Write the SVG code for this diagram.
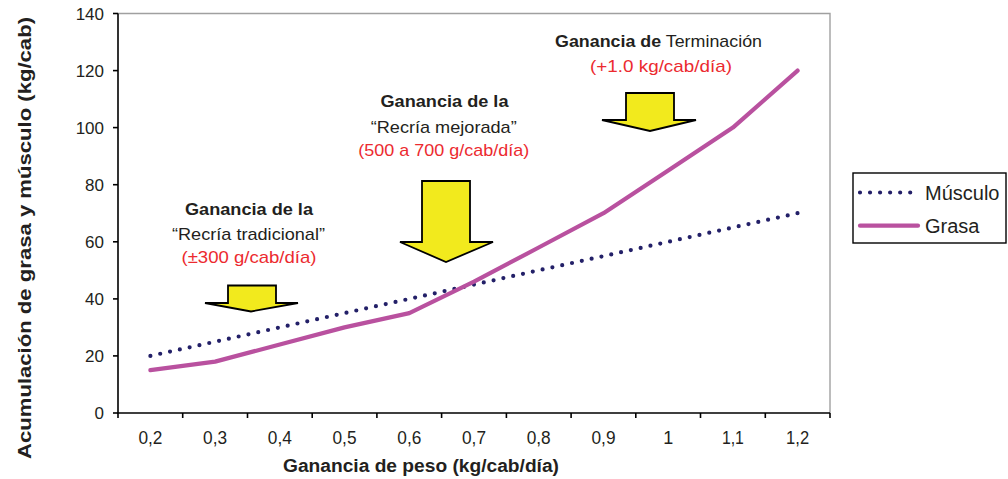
<svg xmlns="http://www.w3.org/2000/svg" width="1008" height="479" viewBox="0 0 1008 479">
<style>
text{font-family:"Liberation Sans",Arial,sans-serif;fill:#231f20}
.ytick{font-size:17px;text-anchor:end}
.xtick{font-size:18px;text-anchor:middle}
.b{font-weight:bold}
.red{fill:#ec2a2f}
.ann{font-size:17px;text-anchor:middle}
.arrow{fill:#f2ea1d;stroke:#000;stroke-width:1.8;stroke-linejoin:miter}
.mus{fill:none;stroke:#232068;stroke-width:4.2;stroke-linecap:round;stroke-dasharray:0 10.04}
.gra{fill:none;stroke:#b9519f;stroke-width:4.2;stroke-linejoin:round;stroke-linecap:round}
.ax{stroke:#000;stroke-width:1.6;fill:none}
.grid{stroke:#a0a0a0;stroke-width:1.4;fill:none}
</style>
<rect width="1008" height="479" fill="#fff"/>
<g id="plot-frame">
<polyline class="grid" points="118,13.5 830,13.5 830,413"/>
<polyline class="ax" points="118,13.5 118,413 830,413"/>
<g class="ax">
<line x1="113" y1="13.5" x2="118" y2="13.5"/>
<line x1="113" y1="70.6" x2="118" y2="70.6"/>
<line x1="113" y1="127.6" x2="118" y2="127.6"/>
<line x1="113" y1="184.7" x2="118" y2="184.7"/>
<line x1="113" y1="241.8" x2="118" y2="241.8"/>
<line x1="113" y1="298.9" x2="118" y2="298.9"/>
<line x1="113" y1="355.9" x2="118" y2="355.9"/>
<line x1="113" y1="413" x2="118" y2="413"/>
<line x1="118" y1="413" x2="118" y2="418"/>
<line x1="182.7" y1="413" x2="182.7" y2="418"/>
<line x1="247.5" y1="413" x2="247.5" y2="418"/>
<line x1="312.2" y1="413" x2="312.2" y2="418"/>
<line x1="376.9" y1="413" x2="376.9" y2="418"/>
<line x1="441.6" y1="413" x2="441.6" y2="418"/>
<line x1="506.4" y1="413" x2="506.4" y2="418"/>
<line x1="571.1" y1="413" x2="571.1" y2="418"/>
<line x1="635.8" y1="413" x2="635.8" y2="418"/>
<line x1="700.5" y1="413" x2="700.5" y2="418"/>
<line x1="765.3" y1="413" x2="765.3" y2="418"/>
<line x1="830" y1="413" x2="830" y2="418"/>
</g>
</g>
<g id="y-labels">
<text class="ytick" x="104" y="19.5">140</text>
<text class="ytick" x="104" y="76.6">120</text>
<text class="ytick" x="104" y="133.6">100</text>
<text class="ytick" x="104" y="190.7">80</text>
<text class="ytick" x="104" y="247.8">60</text>
<text class="ytick" x="104" y="304.9">40</text>
<text class="ytick" x="104" y="361.9">20</text>
<text class="ytick" x="104" y="419">0</text>
</g>
<g id="x-labels">
<text class="xtick" x="150.4" y="444" textLength="24" lengthAdjust="spacingAndGlyphs">0,2</text>
<text class="xtick" x="215.1" y="444" textLength="24" lengthAdjust="spacingAndGlyphs">0,3</text>
<text class="xtick" x="279.8" y="444" textLength="24" lengthAdjust="spacingAndGlyphs">0,4</text>
<text class="xtick" x="344.5" y="444" textLength="24" lengthAdjust="spacingAndGlyphs">0,5</text>
<text class="xtick" x="409.3" y="444" textLength="24" lengthAdjust="spacingAndGlyphs">0,6</text>
<text class="xtick" x="474" y="444" textLength="24" lengthAdjust="spacingAndGlyphs">0,7</text>
<text class="xtick" x="538.7" y="444" textLength="24" lengthAdjust="spacingAndGlyphs">0,8</text>
<text class="xtick" x="603.5" y="444" textLength="24" lengthAdjust="spacingAndGlyphs">0,9</text>
<text class="xtick" x="668.2" y="444">1</text>
<text class="xtick" x="732.9" y="444" textLength="22" lengthAdjust="spacingAndGlyphs">1,1</text>
<text class="xtick" x="797.6" y="444" textLength="23" lengthAdjust="spacingAndGlyphs">1,2</text>
</g>
<g id="axis-titles">
<text class="b" x="421" y="472" text-anchor="middle" font-size="18" textLength="276" lengthAdjust="spacingAndGlyphs">Ganancia de peso (kg/cab/día)</text>
<text class="b" transform="translate(31,238) rotate(-90)" x="0" y="0" text-anchor="middle" font-size="19" textLength="442" lengthAdjust="spacingAndGlyphs">Acumulación de grasa y músculo (kg/cab)</text>
</g>
<g id="series">
<polyline id="musculo" class="mus" points="150.4,355.9 215.1,341.7 279.8,327.4 344.5,313.1 409.3,298.9 474,284.6 538.7,270.3 603.5,256.1 668.2,241.8 732.9,227.5 797.6,213.2"/>
<polyline id="grasa" class="gra" points="150.4,370.2 215.1,361.6 279.8,344.5 344.5,327.4 409.3,313.1 474,281.7 538.7,247.5 603.5,213.2 668.2,170.4 732.9,127.6 797.6,70.6"/>
</g>
<g id="arrow-tradicional">
<path class="arrow" d="M228,285.5 H276 V303 H298 L251,311.5 L205,303 H228 Z"/>
</g>
<g id="arrow-mejorada">
<path class="arrow" d="M422,181 H470 V242 H493 L446,262 L400,242 H422 Z"/>
</g>
<g id="arrow-terminacion">
<path class="arrow" d="M626,93 H674 V120 H696 L650,131 L602,120 H626 Z"/>
</g>
<g id="label-tradicional">
<text class="ann b" x="249" y="215" textLength="128" lengthAdjust="spacingAndGlyphs">Ganancia de la</text>
<text class="ann" x="248.5" y="239.5" textLength="153" lengthAdjust="spacingAndGlyphs">“Recría tradicional”</text>
<text class="ann red" x="249" y="263" textLength="135" lengthAdjust="spacingAndGlyphs">(±300 g/cab/día)</text>
</g>
<g id="label-mejorada">
<text class="ann b" x="444.5" y="107" textLength="128" lengthAdjust="spacingAndGlyphs">Ganancia de la</text>
<text class="ann" x="443.7" y="132.5" textLength="146" lengthAdjust="spacingAndGlyphs">“Recría mejorada”</text>
<text class="ann red" x="443.8" y="156" textLength="171" lengthAdjust="spacingAndGlyphs">(500 a 700 g/cab/día)</text>
</g>
<g id="label-terminacion">
<text x="555" y="47" font-size="17" textLength="207" lengthAdjust="spacingAndGlyphs"><tspan class="b">Ganancia de</tspan> Terminación</text>
<text class="ann red" x="661" y="72" textLength="142" lengthAdjust="spacingAndGlyphs">(+1.0 kg/cab/día)</text>
</g>
<g id="legend">
<rect x="853" y="173" width="153" height="70" fill="#fff" stroke="#000" stroke-width="1.4"/>
<line class="mus" x1="860" y1="192.5" x2="914" y2="192.5"/>
<line class="gra" x1="860" y1="225.7" x2="918" y2="225.7"/>
<text x="925" y="199.5" font-size="20">Músculo</text>
<text x="925" y="232.5" font-size="20">Grasa</text>
</g>
</svg>
